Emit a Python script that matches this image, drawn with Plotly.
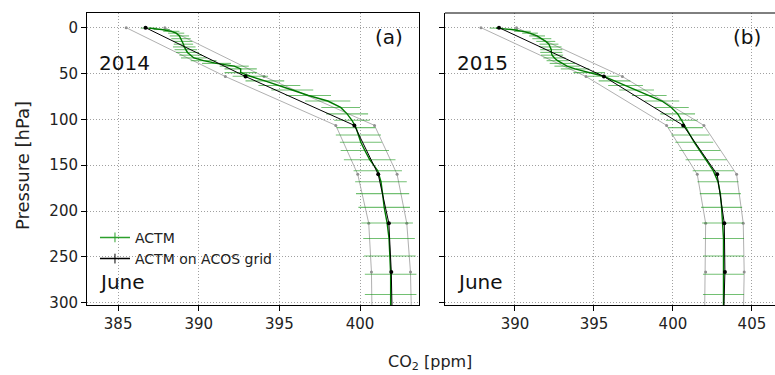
import plotly.graph_objects as go

# ---------------- data ----------------
p_acos = [0, 53.3, 106.6, 160, 213.3, 266.6, 320]

acos_2014 = [386.7, 392.9, 399.65, 401.13, 401.79, 401.94, 402.0]
lo_2014 = [385.5, 391.65, 398.5, 399.86, 400.54, 400.71, 400.75]
hi_2014 = [387.9, 394.05, 400.9, 402.3, 402.9, 403.13, 403.2]

acos_2015 = [388.99, 395.63, 400.65, 402.8, 403.25, 403.29, 403.2]
lo_2015 = [387.85, 394.5, 399.6, 401.54, 402.07, 402.07, 402.0]
hi_2015 = [390.1, 396.8, 401.96, 404.03, 404.45, 404.51, 404.45]

p_actm = [0.5, 2, 4, 6, 9, 12, 15, 18, 21, 24, 27, 30, 33, 36, 39, 42, 45, 49,
          53, 58, 63, 68, 74, 80, 87, 94, 101, 109, 117, 125, 134, 144, 156,
          168, 181, 196, 213, 230, 249, 269, 291, 313]

actm_2014 = [386.9, 387.7, 388.3, 388.6, 388.8, 388.9, 389.0, 389.05, 389.1,
             389.2, 389.3, 389.5, 389.7, 390.3, 391.1, 392.2, 392.6, 392.6,
             393.2, 394.1, 395.0, 395.8, 396.8, 398.0, 398.8, 399.2, 399.5,
             399.75, 399.9, 400.05, 400.3, 400.6, 401.1, 401.3, 401.4, 401.5,
             401.68, 401.8, 401.85, 401.9, 401.9, 401.9]
err_2014 = [0.5, 0.5, 0.5, 0.5, 0.6, 0.6, 0.6, 0.6, 0.7, 0.7, 0.7, 0.7, 0.8,
            0.8, 0.9, 0.9, 1.0, 1.0, 1.1, 1.2, 1.3, 1.3, 1.4, 1.4, 1.2, 1.3,
            1.1, 1.2, 1.4, 1.3, 1.5, 1.6, 1.5, 1.6, 1.65, 1.6, 1.6, 1.6, 1.6,
            1.6, 1.6, 1.6]

actm_2015 = [388.8, 389.8, 390.5, 390.95, 391.4, 391.7, 391.95, 392.15, 392.25,
             392.3, 392.3, 392.35, 392.5, 392.7, 393.0, 393.3, 393.8, 394.7,
             395.6, 396.3, 397.0, 397.7, 398.5, 399.3, 399.9, 400.3, 400.55,
             400.8, 401.1, 401.35, 401.7, 402.1, 402.55, 402.85, 403.0, 403.08,
             403.15, 403.2, 403.2, 403.2, 403.2, 403.2]
err_2015 = [0.4, 0.4, 0.5, 0.5, 0.5, 0.6, 0.6, 0.6, 0.7, 0.7, 0.7, 0.7, 0.7,
            0.7, 0.8, 0.8, 0.9, 1.0, 1.0, 1.0, 1.1, 1.1, 1.1, 1.1, 1.1, 1.1,
            1.0, 1.1, 1.2, 1.2, 1.3, 1.3, 1.3, 1.3, 1.3, 1.3, 1.3, 1.3, 1.3,
            1.3, 1.3, 1.3]

years = ["2014", "2015"]
panel_tags = ["(a)", "(b)"]
month = "June"
x_ticks_a = [385, 390, 395, 400]
x_ticks_b = [390, 395, 400, 405]
y_ticks = [0, 50, 100, 150, 200, 250, 300]

# ---------------- figure ----------------
GREEN = "#007a00"
GREEN_ERR = "rgba(20,150,20,0.6)"
GRAY = "#b0b0b0"
FONT = "DejaVu Sans"

fig = go.Figure()

panels = [
    ("x", "y", actm_2014, err_2014, acos_2014, lo_2014, hi_2014),
    ("x2", "y2", actm_2015, err_2015, acos_2015, lo_2015, hi_2015),
]
for xa, ya, actm, err, acos, lo, hi in panels:
    for bound in (lo, hi):
        fig.add_trace(go.Scatter(
            x=bound, y=p_acos, xaxis=xa, yaxis=ya, mode="lines+markers",
            line=dict(color=GRAY, width=1),
            marker=dict(color="#909090", size=3, symbol="circle"),
            showlegend=False, hoverinfo="skip"))
    fig.add_trace(go.Scatter(
        x=actm, y=p_actm, xaxis=xa, yaxis=ya, mode="lines",
        line=dict(color=GREEN, width=1.4),
        error_x=dict(type="data", array=err, visible=True, color=GREEN_ERR,
                     thickness=1.1, width=0),
        showlegend=False))
    fig.add_trace(go.Scatter(
        x=acos, y=p_acos, xaxis=xa, yaxis=ya, mode="lines+markers",
        line=dict(color="black", width=1),
        marker=dict(color="black", size=4),
        showlegend=False))

# legend-only entries
fig.add_trace(go.Scatter(x=[None], y=[None], mode="lines+markers", name="ACTM",
                         line=dict(color="#2ca02c", width=1.5),
                         marker=dict(symbol="line-ns", size=7,
                                     line=dict(color="#2ca02c", width=1))))
fig.add_trace(go.Scatter(x=[None], y=[None], mode="lines+markers",
                         name="ACTM on ACOS grid",
                         line=dict(color="black", width=1.5),
                         marker=dict(symbol="line-ns", size=7,
                                     line=dict(color="black", width=1))))

axis_common = dict(linecolor="black", linewidth=1,
                   ticks="outside", ticklen=5, tickcolor="black",
                   showgrid=True, gridcolor="#a0a0a0", griddash="1px,2px",
                   gridwidth=1, zeroline=False,
                   tickfont=dict(family=FONT, size=15, color="#222222"))

fig.update_layout(
    width=775, height=375,
    margin=dict(l=87, r=0, t=13, b=70),
    plot_bgcolor="white", paper_bgcolor="white",
    font=dict(family=FONT, color="#222222"),
    xaxis=dict(domain=[0, 0.4826], range=[383.07, 403.66],
               tickvals=x_ticks_a, showline=True, mirror=True, **axis_common),
    xaxis2=dict(domain=[0.5203, 1.0], range=[385.57, 406.46],
                tickvals=x_ticks_b, anchor="y2", showline=True, mirror=False,
                **axis_common),
    yaxis=dict(range=[302.5, -16], tickvals=y_ticks, showline=True,
               mirror=True, **axis_common),
    yaxis2=dict(range=[302.5, -16], tickvals=y_ticks, anchor="x2",
                showticklabels=False, showline=True, mirror=False,
                **axis_common),
    legend=dict(x=0.0116, y=0.285, xanchor="left", yanchor="top",
                bgcolor="rgba(0,0,0,0)",
                font=dict(family=FONT, size=14, color="#222222"),
                tracegroupgap=0, itemwidth=30),
    showlegend=True,
    shapes=[dict(type="line", xref="x2 domain", yref="y2 domain",
                 x0=0, x1=1.01, y0=1, y1=1,
                 line=dict(color="black", width=1))],
)

annots = []
for i, (x0, xr) in enumerate([(0.0145, 0.462), (0.535, 0.9826)]):
    annots.append(dict(x=x0, y=0.829, xref="paper", yref="paper", text=years[i],
                       showarrow=False, xanchor="left", yanchor="middle",
                       font=dict(family=FONT, size=20, color="#111111")))
    annots.append(dict(x=x0, y=0.079, xref="paper", yref="paper", text=month,
                       showarrow=False, xanchor="left", yanchor="middle",
                       font=dict(family=FONT, size=20, color="#111111")))
    annots.append(dict(x=xr, y=0.918, xref="paper", yref="paper",
                       text=panel_tags[i], showarrow=False, xanchor="right",
                       yanchor="middle",
                       font=dict(family=FONT, size=20, color="#111111")))
annots.append(dict(x=0.4985, y=-0.198, xref="paper", yref="paper",
                   text="CO<sub>2</sub> [ppm]", showarrow=False,
                   xanchor="center", yanchor="middle",
                   font=dict(family=FONT, size=16, color="#222222")))
annots.append(dict(x=-0.0945, y=0.479, xref="paper", yref="paper",
                   text="Pressure [hPa]", showarrow=False, textangle=-90,
                   xanchor="center", yanchor="middle",
                   font=dict(family=FONT, size=18, color="#222222")))
fig.update_layout(annotations=annots)

fig.write_html("out.html")
